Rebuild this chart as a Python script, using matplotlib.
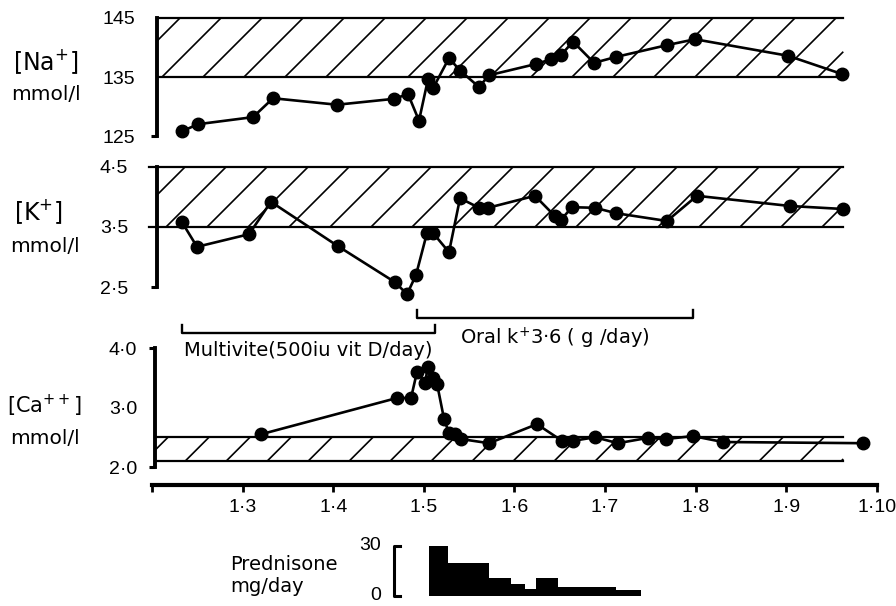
import matplotlib
matplotlib.use('Agg')
import matplotlib.pyplot as plt
import numpy as np

plt.rcParams['font.family'] = ['Liberation Sans', 'DejaVu Sans']
plt.rcParams['mathtext.fontset'] = 'custom'
plt.rcParams['mathtext.rm'] = 'DejaVu Sans'
plt.rcParams['mathtext.it'] = 'DejaVu Sans'
plt.rcParams['mathtext.bf'] = 'DejaVu Sans'

# ---------------- data (time in months, 1·m) ----------------
na_t = [2.331, 2.508, 3.115, 3.336, 4.042, 4.671, 4.826, 4.947, 5.046, 5.102, 5.278, 5.400,
        5.609, 5.720, 6.238, 6.404, 6.514, 6.647, 6.879, 7.121, 7.684, 7.993, 9.020, 9.616]
na_v = [125.8, 127.0, 128.2, 131.4, 130.3, 131.3, 132.1, 127.6, 134.6, 133.1, 138.2, 136.1,
        133.3, 135.3, 137.2, 138.0, 138.7, 141.0, 137.4, 138.4, 140.4, 141.4, 138.6, 135.5]

k_t = [2.331, 2.497, 3.071, 3.313, 4.053, 4.682, 4.815, 4.914, 5.035, 5.102, 5.278, 5.400,
       5.609, 5.709, 6.227, 6.448, 6.514, 6.636, 6.890, 7.121, 7.684, 8.015, 9.042, 9.627]
k_v = [3.58, 3.17, 3.38, 3.92, 3.18, 2.58, 2.38, 2.70, 3.40, 3.40, 3.08, 3.98,
       3.82, 3.82, 4.02, 3.68, 3.62, 3.83, 3.82, 3.73, 3.60, 4.02, 3.85, 3.80]

ca_t = [3.203, 4.704, 4.859, 4.925, 5.013, 5.046, 5.102, 5.146, 5.223, 5.278, 5.344, 5.411,
        5.720, 6.249, 6.525, 6.647, 6.890, 7.143, 7.475, 7.673, 7.971, 8.302, 9.848]
ca_v = [2.55, 3.16, 3.16, 3.60, 3.42, 3.68, 3.50, 3.40, 2.81, 2.57, 2.55, 2.47,
        2.40, 2.72, 2.44, 2.44, 2.50, 2.40, 2.49, 2.47, 2.52, 2.42, 2.40]

na_range = (135, 145)
k_range = (3.5, 4.5)
ca_range = (2.1, 2.5)
band_end = 9.63

month_ticks = [2, 3, 4, 5, 6, 7, 8, 9, 10]
month_labels = ['', '1·3', '1·4', '1·5', '1·6', '1·7', '1·8', '1·9', '1·10']

pred_edges = [5.055, 5.27, 5.715, 5.967, 6.12, 6.24, 6.48, 7.12, 7.40]
pred_dose = [30, 20, 11, 7, 4, 11, 5.5, 3.5]

multivite_period = (2.33, 5.12)
oral_k_period = (4.93, 7.97)

TXT = ['DejaVu Sans']

# ---------------- layout helpers ----------------
W, H = 896, 606
fig = plt.figure(figsize=(W / 100, H / 100), dpi=100)


def px2m(x):
    return 2 + (x - 152) / 90.6


def add_ax(left_px, top_px, bottom_px, right_px=876.8):
    ax = fig.add_axes([left_px / W, 1 - bottom_px / H,
                       (right_px - left_px) / W, (bottom_px - top_px) / H])
    ax.set_xlim(px2m(left_px), px2m(right_px))
    ax.patch.set_alpha(0)
    return ax


def hatch(ax, x0, x1, y0, y1, spacing=41, top_cross=180):
    tr = ax.transData
    inv = tr.inverted()
    (X0, Y0), (X1, Y1) = tr.transform([(x0, y0), (x1, y1)])
    Hh = Y1 - Y0
    c0 = top_cross - Hh
    k_min = int(np.floor((X0 - Hh - c0) / spacing)) - 1
    k_max = int(np.ceil((X1 - c0) / spacing)) + 1
    for k in range(k_min, k_max + 1):
        c = c0 + k * spacing
        xs = max(X0, c)
        xe = min(X1, c + Hh)
        if xe <= xs:
            continue
        p = inv.transform([(xs, Y0 + xs - c), (xe, Y0 + xe - c)])
        ax.plot(p[:, 0], p[:, 1], color='black', lw=1.2, solid_capstyle='butt')


def panel(ax, t, v, ylim, band, yticks, ylabels, pad_px, top_tick=False, hatch_top=180,
          band_left=None):
    ax.set_ylim(*ylim)
    for s in ['top', 'right', 'bottom']:
        ax.spines[s].set_visible(False)
    ax.spines['left'].set_linewidth(2.8)
    ax.set_xticks([])
    ax.set_yticks(yticks)
    ax.set_yticklabels(ylabels, fontsize=14)
    ax.tick_params(axis='y', length=0, pad=pad_px * 0.72)
    xl = ax.get_xlim()[0]
    bl = xl if band_left is None else band_left
    ax.plot([bl, band_end], [band[0]] * 2, color='black', lw=1.6, clip_on=False)
    ax.plot([bl, band_end], [band[1]] * 2, color='black', lw=1.6, clip_on=False)
    hatch(ax, xl, band_end, band[0], band[1], top_cross=hatch_top)
    ax.plot([-0.009, 0], [0, 0], transform=ax.transAxes, color='black', lw=2.2,
            clip_on=False, solid_capstyle='butt')
    if top_tick:
        ax.plot([-0.009, 0], [1, 1], transform=ax.transAxes, color='black', lw=2.2,
                clip_on=False, solid_capstyle='butt')
    ax.plot(t, v, '-o', color='black', lw=1.9, ms=9, clip_on=False, zorder=5)


def ftext(x, y, s, **kw):
    fig.text(x / W, 1 - y / H, s, family=TXT, **kw)


# ---------------- panels ----------------
ax_na = add_ax(157, 18, 136)
panel(ax_na, na_t, na_v, (125, 145), na_range, [125, 135, 145], ['125', '135', '145'],
      pad_px=22, hatch_top=180)

ax_k = add_ax(157, 167, 287)
panel(ax_k, k_t, k_v, (2.5, 4.5), k_range, [2.5, 3.5, 4.5], ['2·5', '3·5', '4·5'],
      pad_px=29, hatch_top=185, band_left=px2m(149))

ax_ca = add_ax(155, 348, 467)
panel(ax_ca, ca_t, ca_v, (2.0, 4.0), ca_range, [2.0, 3.0, 4.0], ['2·0', '3·0', '4·0'],
      pad_px=18, top_tick=True, hatch_top=209)

# y-axis titles
ftext(46, 62, r'[Na$^{+}$]', fontsize=17, ha='center', va='center')
ftext(46, 94, 'mmol/l', fontsize=14.5, ha='center', va='center')
ftext(38, 212, r'[K$^{+}$]', fontsize=17, ha='center', va='center')
ftext(45, 247, 'mmol/l', fontsize=14.5, ha='center', va='center')
ftext(44, 406, r'[Ca$^{++}$]', fontsize=15, ha='center', va='center')
ftext(45, 438, 'mmol/l', fontsize=14.5, ha='center', va='center')


# treatment brackets (drawn in Ca axes data coordinates)
def y_ca(py):
    return 4.0 + (348 - py) / 59.5


x0, x1 = multivite_period
ax_ca.plot([x0, x0, x1, x1], [y_ca(325), y_ca(333), y_ca(333), y_ca(325)],
           color='black', lw=1.7, clip_on=False)
ax_ca.text((x0 + x1) / 2, y_ca(350), 'Multivite(500iu vit D/day)', fontsize=14,
           ha='center', va='center', family=TXT)
x0, x1 = oral_k_period
ax_ca.plot([x0, x0, x1, x1], [y_ca(310), y_ca(318), y_ca(318), y_ca(310)],
           color='black', lw=1.7, clip_on=False)
ax_ca.text((x0 + x1) / 2, y_ca(338), r'Oral k$^{+}$3·6 ( g /day)', fontsize=14,
           ha='center', va='center', family=TXT)

# ---------------- time axis ----------------
ax_x = add_ax(152, 470, 485)
ax_x.set_xlim(2, 10)
ax_x.set_ylim(0, 1)
for s in ['top', 'right', 'left']:
    ax_x.spines[s].set_visible(False)
ax_x.spines['bottom'].set_linewidth(3)
ax_x.set_yticks([])
ax_x.set_xticks(month_ticks)
ax_x.set_xticklabels(month_labels, fontsize=14)
ax_x.tick_params(axis='x', length=5, width=2, pad=5)

# ---------------- prednisone ----------------
ax_p = add_ax(152, 546, 596)
ax_p.set_ylim(0, 30)
ax_p.axis('off')
ax_p.bar(pred_edges[:-1], pred_dose, width=np.diff(pred_edges), align='edge',
         color='black', linewidth=0)
bx = px2m(394)
bx2 = px2m(400)
ax_p.plot([bx2, bx, bx, bx2], [30, 30, 0, 0], color='black', lw=2.2, clip_on=False)
ax_p.text(px2m(381), 30, '30', fontsize=14, ha='right', va='center')
ax_p.text(px2m(381), 0, '0', fontsize=14, ha='right', va='center')
ax_p.text(px2m(230), 18.6, 'Prednisone', fontsize=14, ha='left', va='center', family=TXT)
ax_p.text(px2m(230), 6, 'mg/day', fontsize=14, ha='left', va='center', family=TXT)

fig.savefig('out.png', dpi=100)
